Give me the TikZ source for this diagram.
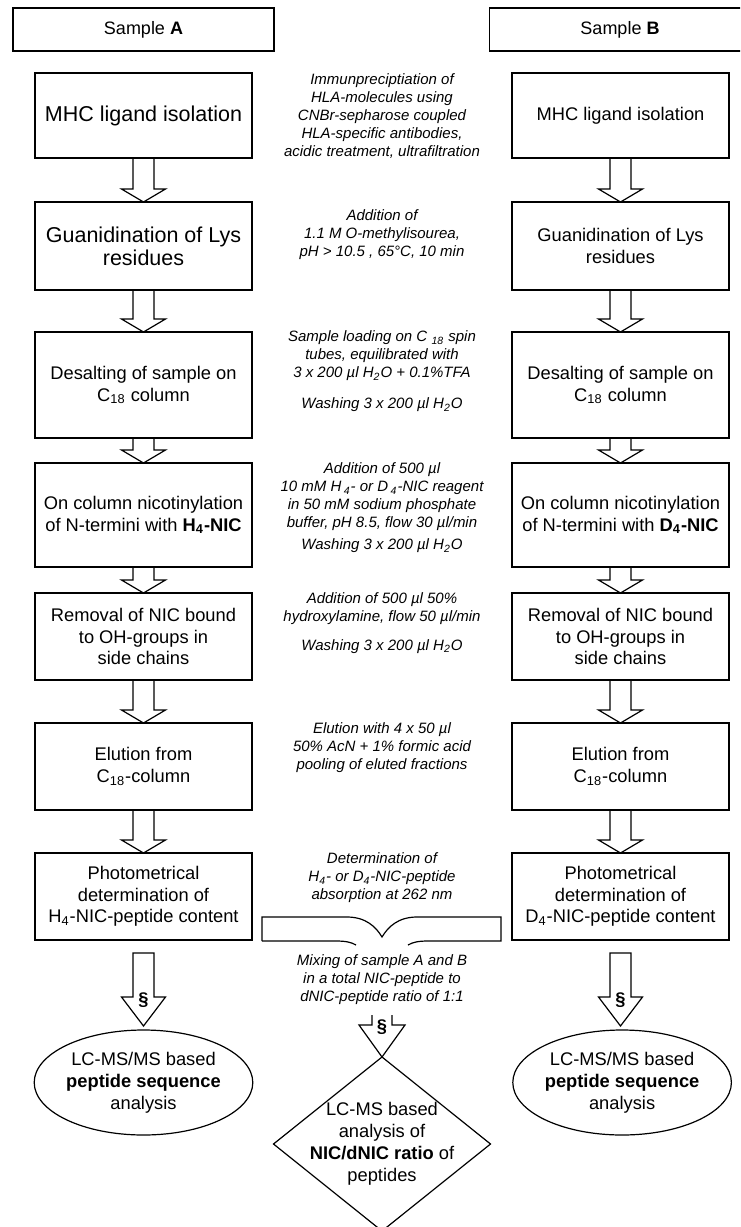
\documentclass[tikz,border=0pt]{standalone}
\usepackage{fontspec}
\setmainfont{Liberation Sans}
\usetikzlibrary{shapes.geometric,positioning,calc}

\begin{document}
\begin{tikzpicture}[
    x=0.5pt, y=-0.5pt, line width=0.6pt,
    headbox/.style={rectangle, draw=black, inner sep=0pt, outer sep=0pt, minimum width=130.5pt, minimum height=21.5pt, font=\fontsize{9}{10.8}\selectfont},
    stepbox/.style={rectangle, draw=black, inner sep=0pt, outer sep=0pt, align=center, minimum width=108.5pt, font=\fontsize{9.15}{10.8}\selectfont},
    bigtext/.style={font=\fontsize{10.75}{11.5}\selectfont},
    resultbox/.style={ellipse, draw=black, inner sep=0pt, outer sep=0pt, align=center, minimum width=108.5pt, minimum height=52.5pt, font=\fontsize{9.15}{11}\selectfont},
    ratiobox/.style={diamond, draw=black, inner sep=0pt, outer sep=0pt, minimum width=108.5pt, minimum height=87pt},
    note/.style={align=center, inner sep=0pt, font=\fontsize{7.5}{9}\selectfont\itshape},
    para/.style={inner sep=0pt, font=\fontsize{9.15}{11}\selectfont\bfseries},
    blockarrow/.style={to path={let \p1=(\tikztostart), \p2=(\tikztotarget) in
        (\x1-5.25pt,\y1) -- (\x1-5.25pt,\y2+#1) -- (\x1-11pt,\y2+#1) -- (\x1,\y2)
        -- (\x1+11pt,\y2+#1) -- (\x1+5.25pt,\y2+#1) -- (\x1+5.25pt,\y1) -- cycle}},
    blockarrow/.default=6.5pt,
    openarrow/.style={to path={let \p1=(\tikztostart), \p2=(\tikztotarget) in
        (\x1-5pt,\y1) -- (\x1-5pt,\y2+16pt) -- (\x1-11.5pt,\y2+16pt) -- (\x1,\y2)
        -- (\x1+11.5pt,\y2+16pt) -- (\x1+5pt,\y2+16pt) -- (\x1+5pt,\y1)}}
]
    \useasboundingbox (0,0) rectangle (740,1227);
    \clip (0,0) rectangle (740,1227);

    % sample A
    \node [headbox] (sampleA) at (143.5,29.5) {Sample \textbf{A}};
    \node [stepbox, bigtext, minimum height=42.5pt, below=11pt of sampleA] (mhcA) {MHC ligand isolation};
    \node [stepbox, bigtext, minimum height=44pt, below=22pt of mhcA] (guanA) {Guanidination of Lys\\residues};
    \node [stepbox, minimum height=53pt, below=21pt of guanA] (desaltA) {Desalting of sample on\\C\textsubscript{18} column};
    \node [stepbox, minimum height=52pt, below=12.5pt of desaltA] (nicA) {On column nicotinylation\\of N-termini with \textbf{H\textsubscript{4}-NIC}};
    \node [stepbox, minimum height=43.5pt, below=13pt of nicA] (removA) {Removal of NIC bound\\to OH-groups in\\side chains};
    \node [stepbox, minimum height=43.5pt, below=21.5pt of removA] (eluA) {Elution from\\C\textsubscript{18}-column};
    \node [stepbox, minimum height=43.5pt, below=21.5pt of eluA] (photoA) {Photometrical\\determination of\\H\textsubscript{4}-NIC-peptide content};
    \node [resultbox, below=45pt of photoA] (seqA) {LC-MS/MS based\\\textbf{peptide sequence}\\analysis};

    % sample B
    \node [headbox, right=107.75pt of sampleA] (sampleB) {Sample \textbf{B}};
    \node [stepbox, minimum height=42.5pt, right=130pt of mhcA] (mhcB) {MHC ligand isolation};
    \node [stepbox, minimum height=44pt, right=130pt of guanA] (guanB) {Guanidination of Lys\\residues};
    \node [stepbox, minimum height=53pt, right=130pt of desaltA] (desaltB) {Desalting of sample on\\C\textsubscript{18} column};
    \node [stepbox, minimum height=52pt, right=130pt of nicA] (nicB) {On column nicotinylation\\of N-termini with \textbf{D\textsubscript{4}-NIC}};
    \node [stepbox, minimum height=43.5pt, right=130pt of removA] (removB) {Removal of NIC bound\\to OH-groups in\\side chains};
    \node [stepbox, minimum height=43.5pt, right=130pt of eluA] (eluB) {Elution from\\C\textsubscript{18}-column};
    \node [stepbox, minimum height=43.5pt, right=130pt of photoA] (photoB) {Photometrical\\determination of\\D\textsubscript{4}-NIC-peptide content};
    \node [resultbox, right=130pt of seqA] (seqB) {LC-MS/MS based\\\textbf{peptide sequence}\\analysis};

    % conditions
    \node [note] (noteiso) at (382,116) {Immunpreciptiation of\\HLA-molecules using\\CNBr-sepharose coupled\\HLA-specific antibodies,\\acidic treatment, ultrafiltration};
    \node [note] (noteguan) at (382,235) {Addition of\\1.1 M O-methylisourea,\\pH > 10.5 , 65°C, 10 min};
    \node [note] (notedesalt) at (382,371.5) {Sample loading on C \textsubscript{18} spin\\tubes, equilibrated with\\3 x 200 µl H\textsubscript{2}O + 0.1\%TFA\\[6.5pt]Washing 3 x 200 µl H\textsubscript{2}O};
    \node [note] (notenic) at (382,508) {Addition of 500 µl\\10 mM H\,\textsubscript{4}- or D\,\textsubscript{4}-NIC reagent\\in 50 mM sodium phosphate\\buffer, pH 8.5, flow 30 µl/min\\[2pt]Washing 3 x 200 µl H\textsubscript{2}O};
    \node [note] (noteremov) at (382,623) {Addition of 500 µl 50\%\\hydroxylamine, flow 50 µl/min\\[5.5pt]Washing 3 x 200 µl H\textsubscript{2}O};
    \node [note] (noteelu) at (382,748) {Elution with 4 x 50 µl\\50\% AcN + 1\% formic acid\\pooling of eluted fractions};
    \node [note] (notephoto) at (382,878) {Determination of\\H\textsubscript{4}- or D\textsubscript{4}-NIC-peptide\\absorption at 262 nm};
    \node [note] (notemix) at (382,980) {Mixing of sample A and B\\in a total NIC-peptide to\\dNIC-peptide ratio of 1:1};

    % ratio analysis
    \node [ratiobox, label={[name=ratiotext, align=center, font=\fontsize{9.15}{11}\selectfont]center:{LC-MS based\\analysis of\\\textbf{NIC/dNIC ratio} of\\peptides}}] (ratio) at (382,1144) {};
    \coordinate (mixstart) at (382,1015);

    % brace
    \draw (262,941) -- (262,917) -- (347,917) .. controls (366,917) and (376,927) .. (382,937)
        .. controls (388,927) and (398,917) .. (417,917) -- (501,917) -- (501,941) -- (428,941)
        .. controls (419,941) and (413,942) .. (408,945);
    \draw (262,941) -- (336,941) .. controls (345,941) and (351,942) .. (356,945);

    \draw [blockarrow] (mhcA.south) to (guanA.north);
    \draw [blockarrow] (guanA.south) to (desaltA.north);
    \draw [blockarrow] (desaltA.south) to (nicA.north);
    \draw [blockarrow] (nicA.south) to (removA.north);
    \draw [blockarrow] (removA.south) to (eluA.north);
    \draw [blockarrow] (eluA.south) to (photoA.north);
    \draw [blockarrow] (mhcB.south) to (guanB.north);
    \draw [blockarrow] (guanB.south) to (desaltB.north);
    \draw [blockarrow] (desaltB.south) to (nicB.north);
    \draw [blockarrow] (nicB.south) to (removB.north);
    \draw [blockarrow] (removB.south) to (eluB.north);
    \draw [blockarrow] (eluB.south) to (photoB.north);
    \draw [blockarrow=14.5pt] ([yshift=-6.5pt]photoA.south) to ([yshift=2pt]seqA.north);
    \draw [blockarrow=14.5pt] ([yshift=-6.5pt]photoB.south) to ([yshift=2pt]seqB.north);
    \draw [openarrow] (mixstart) to (ratio.north);

    \node [para] (paraA) at ([yshift=-30pt]photoA.south) {§};
    \node [para] (paraB) at ([yshift=-30pt]photoB.south) {§};
    \node [para] (paramix) at ([yshift=-6pt]mixstart) {§};
\end{tikzpicture}
\end{document}
